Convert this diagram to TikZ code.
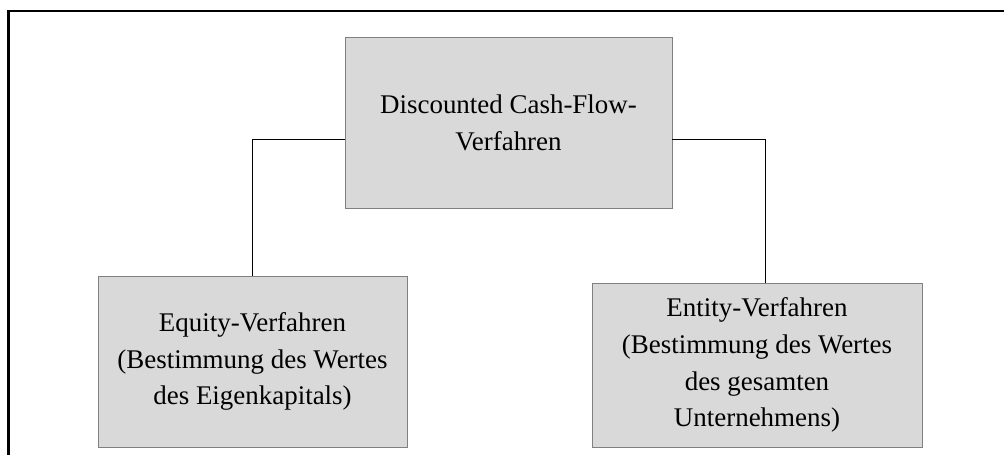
\documentclass[tikz,border=0pt]{standalone}
\usepackage{fontspec}
\setmainfont{Liberation Serif}
\usepackage{xcolor}
\usepackage{tikz}
\usetikzlibrary{positioning}
\definecolor{boxgray}{HTML}{D9D9D9}
\definecolor{edgegray}{HTML}{808080}
\tikzset{%
  method box/.style={
    rectangle,
    fill=boxgray,
    draw=edgegray,
    line width=0.6pt,
    align=center,
    inner sep=0pt,
    font=\fontsize{23}{31.5}\selectfont
  },
  link/.style={
    draw=black,
    line width=0.6pt
  },
}

\begin{document}
\begin{tikzpicture}[x=0.03cm,y=-0.03cm]
  \useasboundingbox (0,0) rectangle (1004,455);
  \draw [line width=2pt] (1004,11) -- (8.5,11) -- (8.5,455);

  \node (dcf) [method box,minimum width=327*0.03cm,minimum height=171*0.03cm]
    at (508.5,122.5) {Discounted Cash-Flow-\\Verfahren};
  \node (eq) [method box,minimum width=309*0.03cm,minimum height=171*0.03cm]
    at (252.5,361.5) {Equity-Verfahren\\(Bestimmung des Wertes\\des Eigenkapitals)};
  \node (ent) [method box,minimum width=330*0.03cm,minimum height=164*0.03cm]
    at (757,365) {Entity-Verfahren\\(Bestimmung des Wertes\\des gesamten\\Unternehmens)};

  \draw [link] ([yshift=-16.5*0.03cm]dcf.west) -| (eq.north);
  \draw [link] ([yshift=-16.5*0.03cm]dcf.east) -| ([xshift=8*0.03cm]ent.north);
\end{tikzpicture}
\end{document}
